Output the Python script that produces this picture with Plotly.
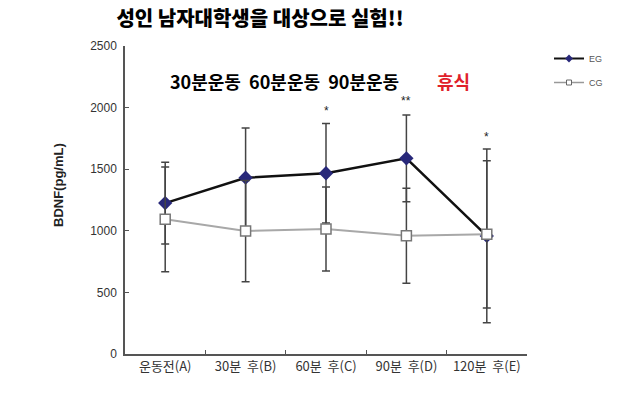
import plotly.graph_objects as go

categories = ["운동전(A)", "30분\u00a0\u00a0후(B)", "60분\u00a0\u00a0후(C)", "90분\u00a0\u00a0후(D)", "120분\u00a0\u00a0후(E)"]
eg_values = [1225, 1431, 1467, 1588, 958]
eg_err = [332, 403, 403, 352, 705]
cg_values = [1093, 998, 1015, 960, 971]
cg_err = [425, 411, 341, 386, 598]
star_labels = ["*", "**", "*"]
star_cats = [categories[2], categories[3], categories[4]]
star_y = [1975, 2055, 1765]

KR = "Noto Sans CJK KR"
L, R, T, B = 125, 113, 46, 41
pw, ph = 640 - L - R, 395 - T - B

def px(xp):
    return (xp - L) / pw

def py(yp):
    return (395 - yp - B) / ph

fig = go.Figure()
fig.add_trace(go.Scatter(
    x=categories, y=eg_values, name="EG", mode="lines+markers", showlegend=False,
    line=dict(color="#111111", width=2.5),
    marker=dict(symbol="diamond", size=11, color="#28287a"),
    error_y=dict(type="data", array=eg_err, visible=True, color="#444444", thickness=1.5, width=4),
))
fig.add_trace(go.Scatter(
    x=categories, y=cg_values, name="CG", mode="lines+markers", showlegend=False,
    line=dict(color="#a8a8a8", width=2),
    marker=dict(symbol="square", size=10, color="white", line=dict(color="#777777", width=1.5)),
    error_y=dict(type="data", array=cg_err, visible=True, color="#444444", thickness=1.5, width=4),
))
# legend-only entries with small symbols
fig.add_trace(go.Scatter(x=[None], y=[None], name="EG", mode="lines+markers", legendgroup="eg",
                         line=dict(color="#111111", width=2),
                         marker=dict(symbol="diamond", size=6, color="#28287a")))
fig.add_trace(go.Scatter(x=[None], y=[None], name="CG", mode="lines+markers", legendgroup="cg",
                         line=dict(color="#999999", width=1.5),
                         marker=dict(symbol="square", size=5, color="white", line=dict(color="#666", width=1))))

annotations = []
for s, c, y in zip(star_labels, star_cats, star_y):
    annotations.append(dict(x=c, y=y, xref="x", yref="y", text=s, showarrow=False,
                            font=dict(family="Arial", size=12, color="#222")))
annotations.append(dict(x=px(284), y=py(81), xref="paper", yref="paper", xanchor="center", yanchor="middle",
                        text="<b>30분운동\u00a0\u00a060분운동\u00a0\u00a090분운동</b>",
                        showarrow=False, font=dict(family=KR, size=18, color="black")))
annotations.append(dict(x=px(453), y=py(81), xref="paper", yref="paper", xanchor="center", yanchor="middle",
                        text="<b>휴식</b>", showarrow=False,
                        font=dict(family=KR, size=18, color="#e0202a")))
annotations.append(dict(x=px(58), y=py(185), xref="paper", yref="paper", xanchor="center", yanchor="middle",
                        textangle=-90, text="<b>BDNF(pg/mL)</b>", showarrow=False,
                        font=dict(family="Arial", size=13, color="#222")))

fig.update_layout(
    width=640, height=395,
    margin=dict(l=L, r=R, t=T, b=B),
    paper_bgcolor="white", plot_bgcolor="white",
    title=dict(text="성인 남자대학생을 대상으로 실험!!", x=260 / 640, xanchor="center",
               y=1 - 19 / 395, yanchor="middle",
               font=dict(family=KR, size=20, color="black", weight=900)),
    showlegend=True,
    legend=dict(x=px(549), y=py(44), xanchor="left", yanchor="top",
                font=dict(family="Arial", size=9, color="#555"), bgcolor="rgba(0,0,0,0)",
                tracegroupgap=5, itemwidth=30),
    annotations=annotations,
    font=dict(family=KR, size=10, color="#333"),
)
fig.update_xaxes(type="category", range=[-0.5, 4.5], showline=True, linecolor="#555", linewidth=1.5,
                 ticks="inside", tickson="boundaries", ticklen=4, tickcolor="#555", showgrid=False,
                 tickfont=dict(family=KR, size=13, color="#333"), zeroline=False)
fig.update_yaxes(range=[0, 2500], dtick=500, showline=True, linecolor="#555", linewidth=1.5,
                 ticks="inside", ticklen=4, tickcolor="#555", showgrid=False, zeroline=False,
                 tickfont=dict(family="Arial", size=12, color="#333"), ticklabelstandoff=4)
fig.write_html("out.html")
